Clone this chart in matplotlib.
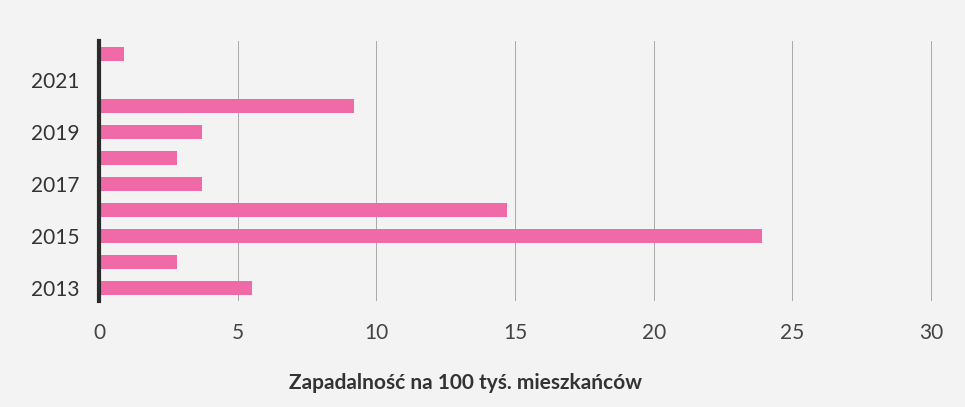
import matplotlib
matplotlib.use('Agg')
import matplotlib.pyplot as plt
import numpy as np

# Dane
YEARS  = [2013, 2014, 2015, 2016, 2017, 2018, 2019, 2020, 2021, 2022]
VALUES = [5.5, 2.8, 23.9, 14.7, 3.7, 2.8, 3.7, 9.2, 0.0, 0.9]
YTICKS = [2013, 2015, 2017, 2019, 2021]
XTICKS = [0, 5, 10, 15, 20, 25, 30]

plt.rcParams['font.family'] = ['Lato', 'DejaVu Sans']

fig = plt.figure(figsize=(9.65, 4.07), dpi=100)
fig.patch.set_facecolor('#f3f3f3')
ax = fig.add_axes([0.1026, 0.2604, 0.8637, 0.6388])
ax.set_facecolor('none')

ax.barh(YEARS, VALUES, height=0.57, color='#ef6aa6', zorder=3)

ax.set_xlim(0, 30.05)
ax.set_ylim(2012.5, 2022.5)
ax.set_xticks(XTICKS)
ax.set_xticklabels([str(t) for t in XTICKS], fontsize=15, color='#444444')
ax.set_yticks(YTICKS)
ax.set_yticklabels([str(t) for t in YTICKS], fontsize=15, color='#333333')
ax.tick_params(axis='both', length=0)
ax.tick_params(axis='x', pad=16)
ax.tick_params(axis='y', pad=14)

ax.xaxis.grid(True, color='#a8a8a8', lw=0.7, zorder=0)
for sp in ['top', 'right', 'bottom']:
    ax.spines[sp].set_visible(False)
ax.spines['left'].set_color('#2a2a2a')
ax.spines['left'].set_linewidth(3)
ax.spines['left'].set_zorder(4)

fig.text(0.482, 0.059, 'Zapadalność na 100 tyś. mieszkańców',
         ha='center', va='center', fontsize=15, fontweight='bold', color='#333333')

plt.savefig('out.png', dpi=100, facecolor=fig.get_facecolor())
plt.close()
